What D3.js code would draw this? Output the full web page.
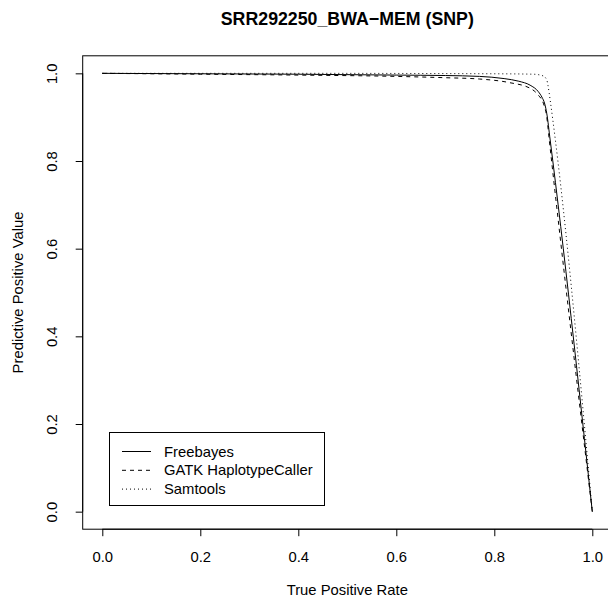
<!DOCTYPE html>
<html>
<head>
<meta charset="utf-8">
<script src="https://cdn.jsdelivr.net/npm/d3@7"></script>
<style>
  html, body { margin: 0; padding: 0; background: #fff; }
  svg { display: block; font-family: "Liberation Sans", Arial, Helvetica, sans-serif; }
</style>
</head>
<body>
<svg id="chart" width="608" height="605"></svg>
<script>
// Precision / recall curves per variant caller
const titleText = "SRR292250_BWA\u2212MEM (SNP)";
const xLabel = "True Positive Rate";
const yLabel = "Predictive Positive Value";
const tickValues = [0.0, 0.2, 0.4, 0.6, 0.8, 1.0];

const freebayesTPR = [0, 0.2, 0.4, 0.6, 0.7, 0.77, 0.82, 0.85, 0.873, 0.89, 0.897, 0.903, 0.907, 0.914, 1.0];
const freebayesPPV = [1.0, 0.999, 0.998, 0.996, 0.995, 0.993, 0.988, 0.982, 0.973, 0.958, 0.946, 0.93, 0.909, 0.848, 0.0];

const gatkTPR = [0, 0.2, 0.4, 0.6, 0.7, 0.77, 0.83, 0.873, 0.89, 0.9, 0.907, 0.912, 1.0];
const gatkPPV = [1.0, 0.998, 0.996, 0.993, 0.99, 0.987, 0.979, 0.966, 0.95, 0.932, 0.901, 0.85, 0.0];

const samtoolsTPR = [0, 0.4, 0.8, 0.88, 0.9, 0.907, 0.912, 0.914, 1.0];
const samtoolsPPV = [1.0, 1.0, 0.999, 0.998, 0.994, 0.985, 0.955, 0.939, 0.0];

const seriesNames = ["Freebayes", "GATK HaplotypeCaller", "Samtools"];
const seriesDash = [null, "4,4", "1,3"];

const series = [
  { name: seriesNames[0], tpr: freebayesTPR, ppv: freebayesPPV, dash: seriesDash[0] },
  { name: seriesNames[1], tpr: gatkTPR, ppv: gatkPPV, dash: seriesDash[1] },
  { name: seriesNames[2], tpr: samtoolsTPR, ppv: samtoolsPPV, dash: seriesDash[2] }
];

const FS = 14.8;
const svg = d3.select("#chart");

// plot region, extended 4% beyond the data range on each side
const x = d3.scaleLinear().domain([-0.04, 1.04]).range([82.7, 611.9]);
const y = d3.scaleLinear().domain([-0.04, 1.04]).range([529.2, 55.8]);

// box
svg.append("rect")
  .attr("x", x(-0.04)).attr("y", y(1.04))
  .attr("width", x(1.04) - x(-0.04)).attr("height", y(-0.04) - y(1.04))
  .attr("fill", "none").attr("stroke", "#000").attr("stroke-width", 1);

// axes
const xAxis = d3.axisBottom(x).tickValues(tickValues).tickFormat(d3.format(".1f")).tickSizeInner(7).tickSizeOuter(0).tickPadding(15.2);
const gx = svg.append("g").attr("transform", `translate(0,${y(-0.04)})`).call(xAxis);
gx.select(".domain").attr("d", `M${x(0)},0H${x(1)}`).attr("stroke", "#000");
gx.selectAll("text").attr("font-size", FS).attr("fill", "#000").attr("font-family", "Liberation Sans, Arial, sans-serif");
gx.selectAll(".tick line").attr("stroke", "#000");

const yAxis = d3.axisLeft(y).tickValues(tickValues).tickFormat(d3.format(".1f")).tickSizeInner(7).tickSizeOuter(0).tickPadding(0);
const gy = svg.append("g").attr("transform", `translate(${x(-0.04)},0)`).call(yAxis);
gy.select(".domain").attr("d", `M0,${y(0)}V${y(1)}`).attr("stroke", "#000");
gy.selectAll(".tick line").attr("stroke", "#000");
gy.selectAll(".tick text")
  .attr("x", null).attr("dy", null)
  .attr("transform", "translate(-30.2,0) rotate(-90)")
  .attr("text-anchor", "middle").attr("dominant-baseline", "central")
  .attr("font-size", FS).attr("fill", "#000").attr("font-family", "Liberation Sans, Arial, sans-serif");

// titles
svg.append("text").attr("x", (x(-0.04) + x(1.04)) / 2).attr("y", 25)
  .attr("text-anchor", "middle").attr("font-size", FS * 1.2).attr("font-weight", "bold").text(titleText);
svg.append("text").attr("x", (x(-0.04) + x(1.04)) / 2).attr("y", 595.3)
  .attr("text-anchor", "middle").attr("font-size", FS).text(xLabel);
svg.append("text").attr("transform", `translate(22.7,${(y(-0.04) + y(1.04)) / 2}) rotate(-90)`)
  .attr("text-anchor", "middle").attr("font-size", FS).text(yLabel);

// curves
const line = d3.line().curve(d3.curveMonotoneX);
series.forEach(s => {
  const pts = s.tpr.map((t, i) => [x(t), y(s.ppv[i])]);
  svg.append("path").attr("d", line(pts))
    .attr("fill", "none").attr("stroke", "#000").attr("stroke-width", 1)
    .attr("stroke-dasharray", s.dash);
});

// legend
const lg = svg.append("g");
lg.append("rect").attr("x", 109.5).attr("y", 432.5).attr("width", 215).attr("height", 73)
  .attr("fill", "#fff").attr("stroke", "#000").attr("stroke-width", 1);
series.forEach((s, i) => {
  const yy = 451.5 + i * 18.8;
  lg.append("line").attr("x1", 122).attr("x2", 151).attr("y1", yy).attr("y2", yy)
    .attr("stroke", "#000").attr("stroke-width", 1).attr("stroke-dasharray", s.dash);
  lg.append("text").attr("x", 164).attr("y", yy).attr("dominant-baseline", "central")
    .attr("font-size", FS).text(s.name);
});
</script>
</body>
</html>
